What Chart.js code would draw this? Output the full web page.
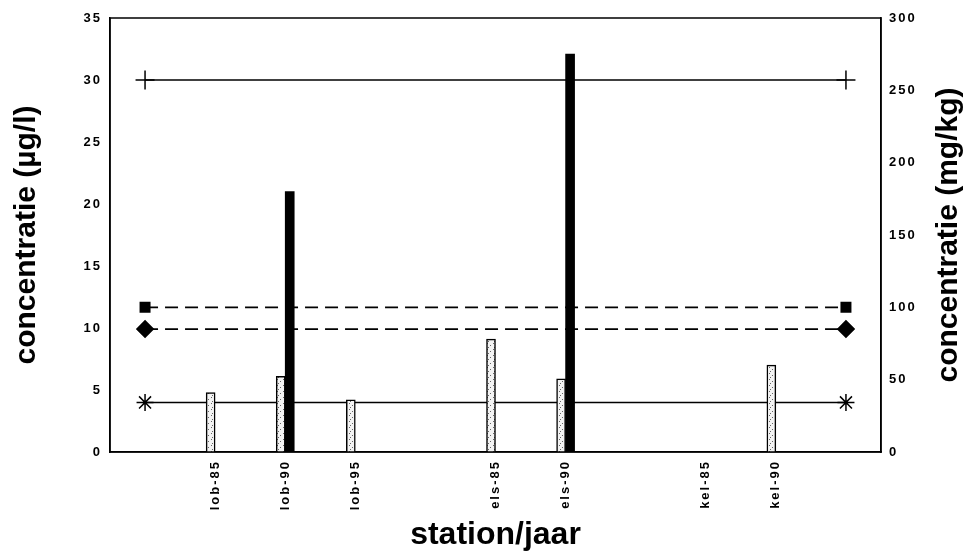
<!DOCTYPE html>
<html>
<head>
<meta charset="utf-8">
<script src="https://cdn.jsdelivr.net/npm/chart.js@4/dist/chart.umd.min.js"></script>
<style>
  body { margin: 0; background: #fff; }
  #wrap { width: 965px; height: 560px; }
</style>
</head>
<body>
<div id="wrap"><canvas id="myChart" width="965" height="560"></canvas></div>
<script>
// categories (empty slots are gaps between stations)
var stations = ['', 'lob-85', 'lob-90', 'lob-95', '', 'els-85', 'els-90', '', 'kel-85', 'kel-90', ''];
// water, µg/l (left axis)
var water = [null, 4.8, 6.1, 4.2, null, 9.1, 5.9, null, 0, 7.0, null];
// sediment, mg/kg (right axis)
var sediment = [null, 0, 180, 0, null, 0, 275, null, 0, 0, null];
// axis ranges
var leftAxis = { min: 0, max: 35, step: 5 };
var rightAxis = { min: 0, max: 300, step: 50 };
// norm lines
var normCross = 30;    // µg/l
var normSquare = 100;  // mg/kg
var normDiamond = 85;  // mg/kg
var normStar = 4;      // µg/l

function endsOnly(v) {
  return stations.map(function(s, i) {
    return (i === 0 || i === stations.length - 1) ? v : null;
  });
}

function speckle() {
  var c = document.createElement('canvas');
  c.width = 6; c.height = 6;
  var g = c.getContext('2d');
  g.fillStyle = '#f3f3f3';
  g.fillRect(0, 0, 6, 6);
  g.fillStyle = '#666';
  g.fillRect(1, 1, 1, 1);
  g.fillRect(4, 3, 1, 1);
  g.fillRect(2, 5, 1, 1);
  return g.createPattern(c, 'repeat');
}

// wide tracking on the tick labels like the original print
if (Chart.Scale) {
  var drawLabels = Chart.Scale.prototype.drawLabels;
  Chart.Scale.prototype.drawLabels = function(area) {
    this.ctx.letterSpacing = '2px';
    drawLabels.call(this, area);
    this.ctx.letterSpacing = '0px';
  };
}

var frame = {
  id: 'frame',
  afterDraw: function(chart) {
    var a = chart.chartArea, ctx = chart.ctx;
    ctx.save();
    ctx.strokeStyle = '#000';
    ctx.lineWidth = 1.5;
    ctx.strokeRect(a.left, a.top, a.right - a.left, a.bottom - a.top);
    // right axis title reads bottom-to-top like the left one
    ctx.translate(chart.width - 16, (a.top + a.bottom) / 2);
    ctx.rotate(-Math.PI / 2);
    ctx.font = 'bold 30px "Liberation Sans", Arial, sans-serif';
    ctx.textAlign = 'center';
    ctx.textBaseline = 'middle';
    ctx.fillStyle = '#000';
    ctx.fillText('concentratie (mg/kg)', 0, 0);
    ctx.restore();
  }
};

Chart.defaults.font.family = '"Liberation Sans", Arial, sans-serif';
Chart.defaults.color = '#000';

var tickFont = { size: 13, weight: 'bold' };

var ctx = document.getElementById('myChart');

var chart = new Chart(ctx, {
  type: 'bar',
  data: {
    labels: stations,
    datasets: [
      {
        label: 'water (µg/l)',
        data: water,
        yAxisID: 'y',
        backgroundColor: speckle(),
        borderColor: '#000',
        borderWidth: 1.5,
        barThickness: 9,
        order: 1
      },
      {
        label: 'sediment (mg/kg)',
        data: sediment,
        yAxisID: 'y1',
        backgroundColor: '#000',
        borderColor: '#000',
        borderWidth: 0,
        barThickness: 9,
        order: 1
      },
      {
        type: 'line',
        label: 'norm +',
        data: endsOnly(normCross),
        yAxisID: 'y',
        borderColor: '#000',
        borderWidth: 1.5,
        pointStyle: 'cross',
        pointRadius: 9.5,
        pointBorderWidth: 1.5,
        pointBorderColor: '#000',
        spanGaps: true,
        order: 2
      },
      {
        type: 'line',
        label: 'norm square',
        data: endsOnly(normSquare),
        yAxisID: 'y1',
        borderColor: '#000',
        borderWidth: 1.8,
        borderDash: [13, 7],
        pointStyle: 'rect',
        pointRadius: 6.5,
        pointBackgroundColor: '#000',
        pointBorderColor: '#000',
        spanGaps: true,
        order: 2
      },
      {
        type: 'line',
        label: 'norm diamond',
        data: endsOnly(normDiamond),
        yAxisID: 'y1',
        borderColor: '#000',
        borderWidth: 1.8,
        borderDash: [13, 7],
        pointStyle: 'rectRot',
        pointRadius: 8,
        pointBackgroundColor: '#000',
        pointBorderColor: '#000',
        spanGaps: true,
        order: 2
      },
      {
        type: 'line',
        label: 'norm star',
        data: endsOnly(normStar),
        yAxisID: 'y',
        borderColor: '#000',
        borderWidth: 1.5,
        pointStyle: 'star',
        pointRadius: 8.5,
        pointBorderWidth: 1.5,
        pointBorderColor: '#000',
        spanGaps: true,
        order: 2
      }
    ]
  },
  options: {
    responsive: false,
    animation: false,
    layout: { padding: { top: 18, left: 0, right: 0, bottom: 0 } },
    plugins: {
      legend: { display: false },
      tooltip: { enabled: false }
    },
    scales: {
      x: {
        type: 'category',
        offset: true,
        grid: { display: false, drawTicks: false },
        border: { display: true, color: '#000', width: 1.5 },
        ticks: {
          autoSkip: false,
          maxRotation: 90,
          minRotation: 90,
          padding: 8,
          font: tickFont
        },
        title: {
          display: true,
          text: 'station/jaar',
          font: { size: 32, weight: 'bold' },
          padding: { top: 0, bottom: 6 }
        },
        afterFit: function(s) { s.height = 108; }
      },
      y: {
        position: 'left',
        min: leftAxis.min,
        max: leftAxis.max,
        grid: { display: false, drawTicks: false },
        border: { display: true, color: '#000', width: 1.5 },
        ticks: {
          stepSize: leftAxis.step,
          padding: 8,
          font: tickFont
        },
        title: {
          display: true,
          text: 'concentratie (µg/l)',
          font: { size: 30, weight: 'bold' },
          padding: { top: 9, bottom: 0 }
        },
        afterFit: function(s) { s.width = 110; }
      },
      y1: {
        position: 'right',
        min: rightAxis.min,
        max: rightAxis.max,
        grid: { display: false, drawTicks: false },
        border: { display: true, color: '#000', width: 1.5 },
        ticks: {
          stepSize: rightAxis.step,
          padding: 8,
          font: tickFont
        },
        afterFit: function(s) { s.width = 84; }
      }
    }
  },
  plugins: [frame]
});
</script>
</body>
</html>
